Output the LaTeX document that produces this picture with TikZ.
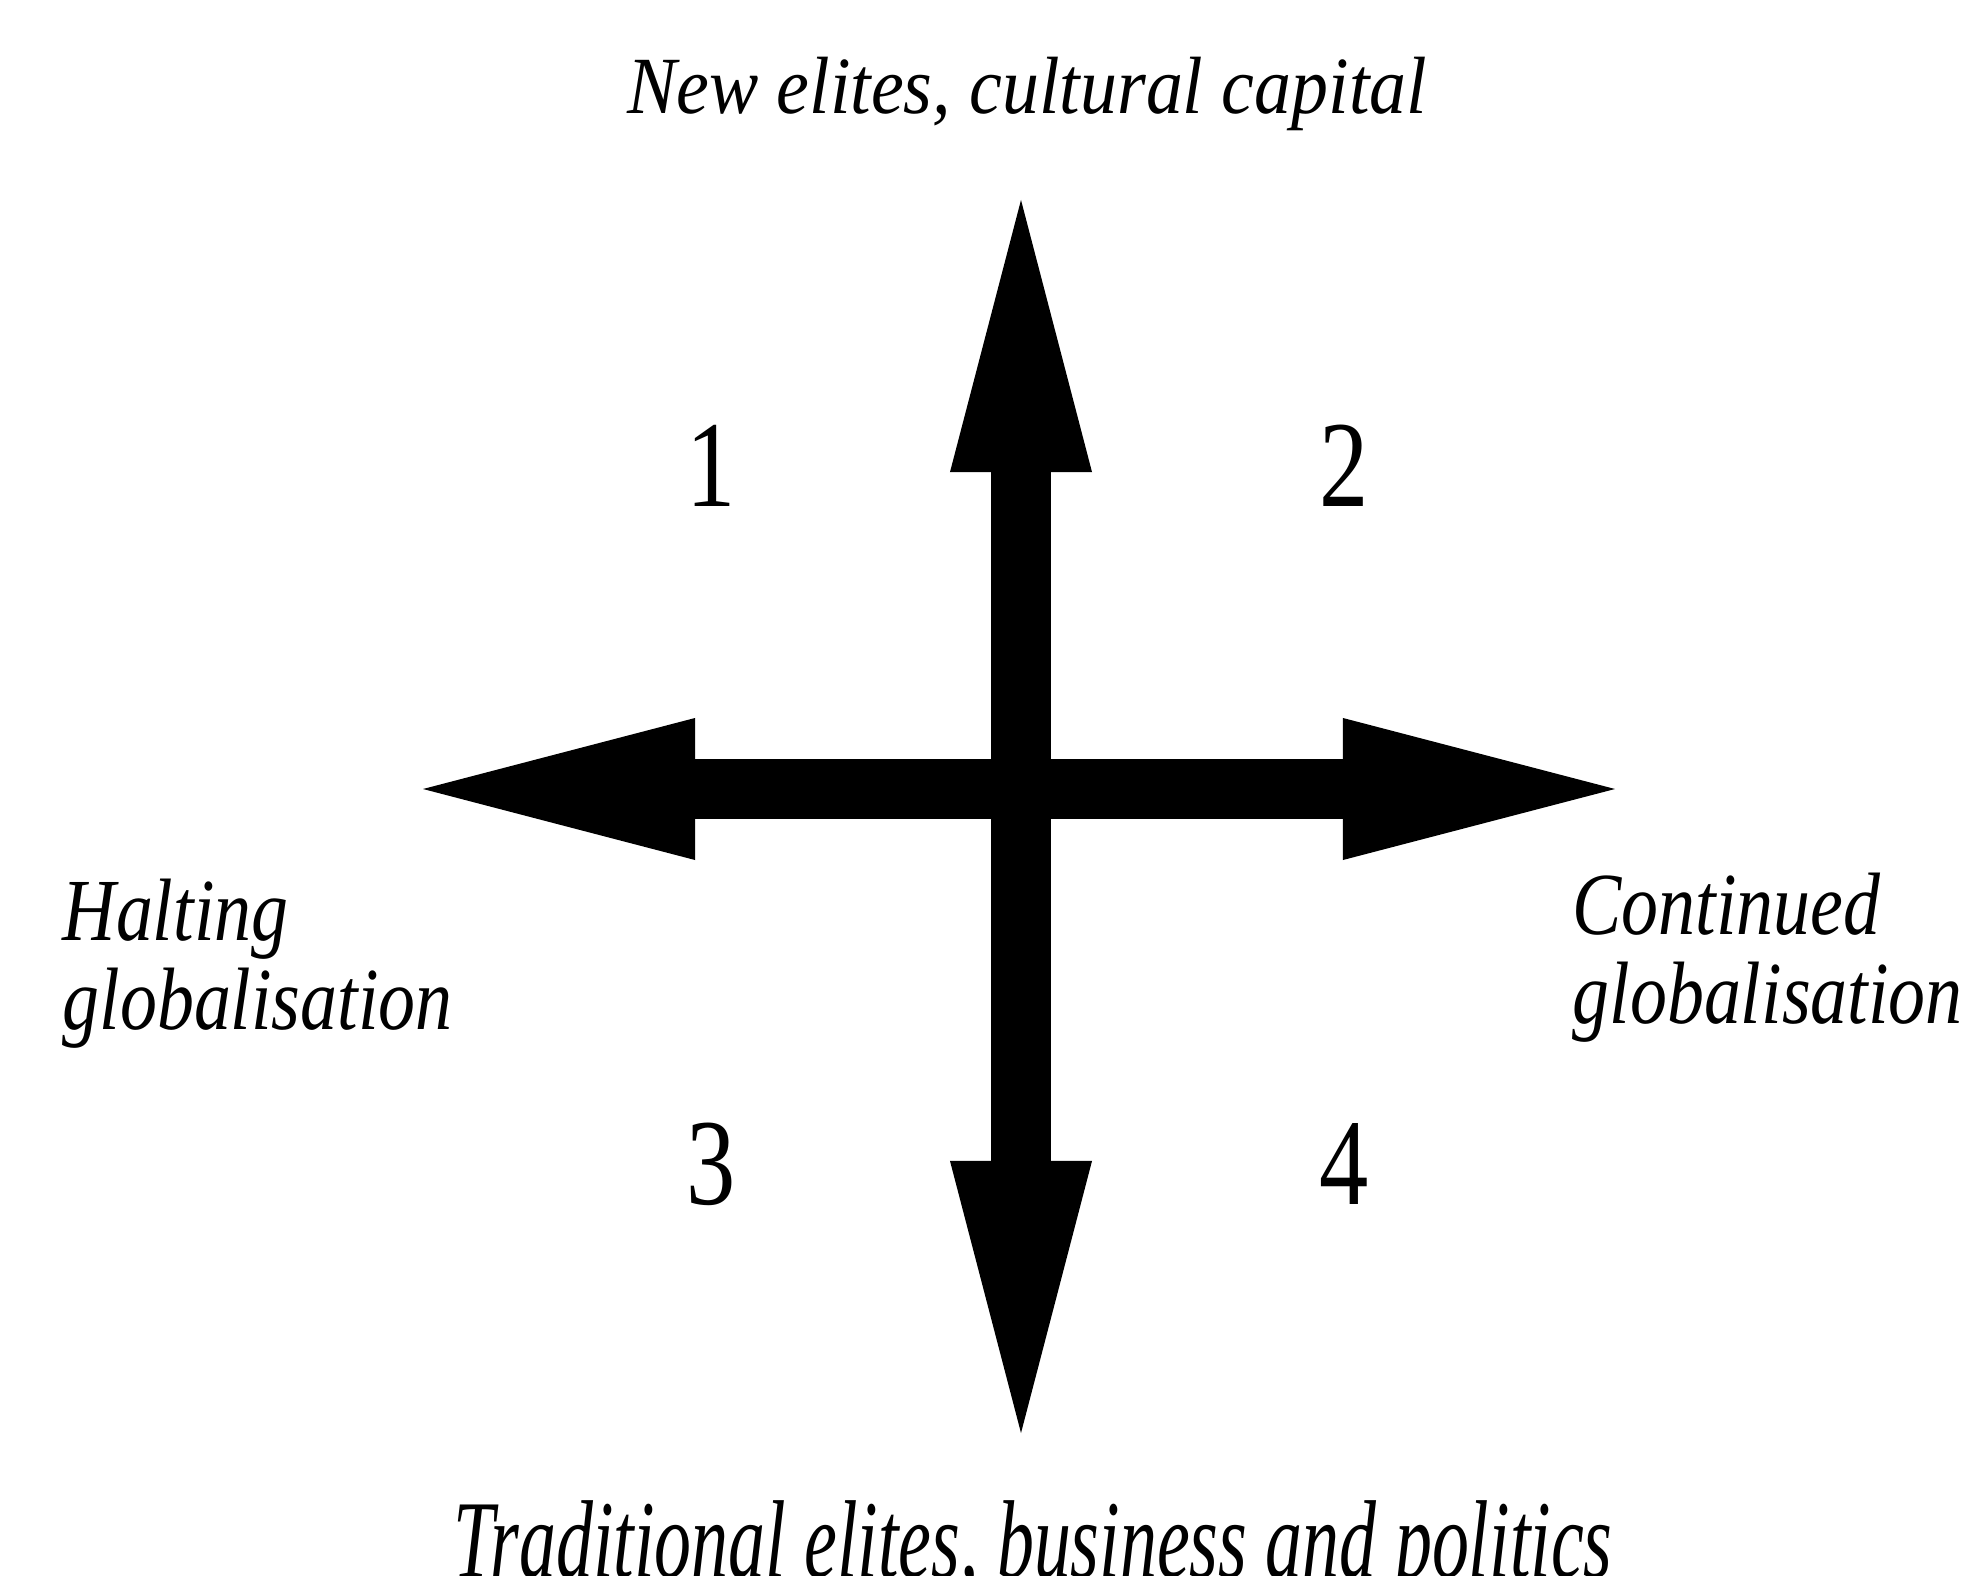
\documentclass[tikz,border=0pt]{standalone}
\usepackage{fontspec}
\setmainfont{Liberation Serif}
\usepackage{graphicx}
\usetikzlibrary{arrows.meta, math}

\newcommand{\poleface}{\fontsize{21}{25.3}\selectfont\itshape\lineskiplimit -1cm\relax}

\tikzset{
    axis/.style={line width=0.6cm, {Triangle[length=2.72cm, width=1.42cm, line width=0pt]}-{Triangle[length=2.72cm, width=1.42cm, line width=0pt]}},
    pole/.style={inner sep=0pt, font=\poleface},
    quadrant/.style={inner sep=0pt, font=\fontsize{28}{28}\selectfont}
}

\begin{document}
\begin{tikzpicture}[x=0.01cm, y=-0.01cm]
    \tikzmath{\xMid = 1021; \yMid = 789; \xL = 711; \xR = 1344; \yT = 466; \yB = 1164;}
    \useasboundingbox (0,0) rectangle (1963,1576);

    \coordinate (north) at (\xMid,200);
    \coordinate (south) at (\xMid,1433);
    \coordinate (west) at (423,\yMid);
    \coordinate (east) at (1615,\yMid);

    \draw[axis] (south) -- (north);
    \draw[axis] (west) -- (east);

    \node[pole](new-elites) at (1027,94) {\scalebox{1}[1.1]{New elites, cultural capital}};
    \node[pole, anchor=north](trad-elites) at (1033,1500) {\scalebox{1}[1.5]{Traditional elites, business and politics}};
    \node[pole, anchor=north west, align=left](halting) at (62,878) {\scalebox{1}[1.2]{Halting}\\ \scalebox{1}[1.2]{globalisation}};
    \node[pole, anchor=north west, align=left](continued) at (1572,872) {\scalebox{1}[1.2]{Continued}\\ \scalebox{1}[1.2]{globalisation}};

    \node[quadrant](q1) at (\xL,\yT) {\scalebox{1}[1.25]{1}};
    \node[quadrant](q2) at (\xR,\yT) {\scalebox{1}[1.25]{2}};
    \node[quadrant](q3) at (\xL,\yB) {\scalebox{1}[1.25]{3}};
    \node[quadrant](q4) at (\xR,\yB) {\scalebox{1}[1.25]{4}};
\end{tikzpicture}
\end{document}
